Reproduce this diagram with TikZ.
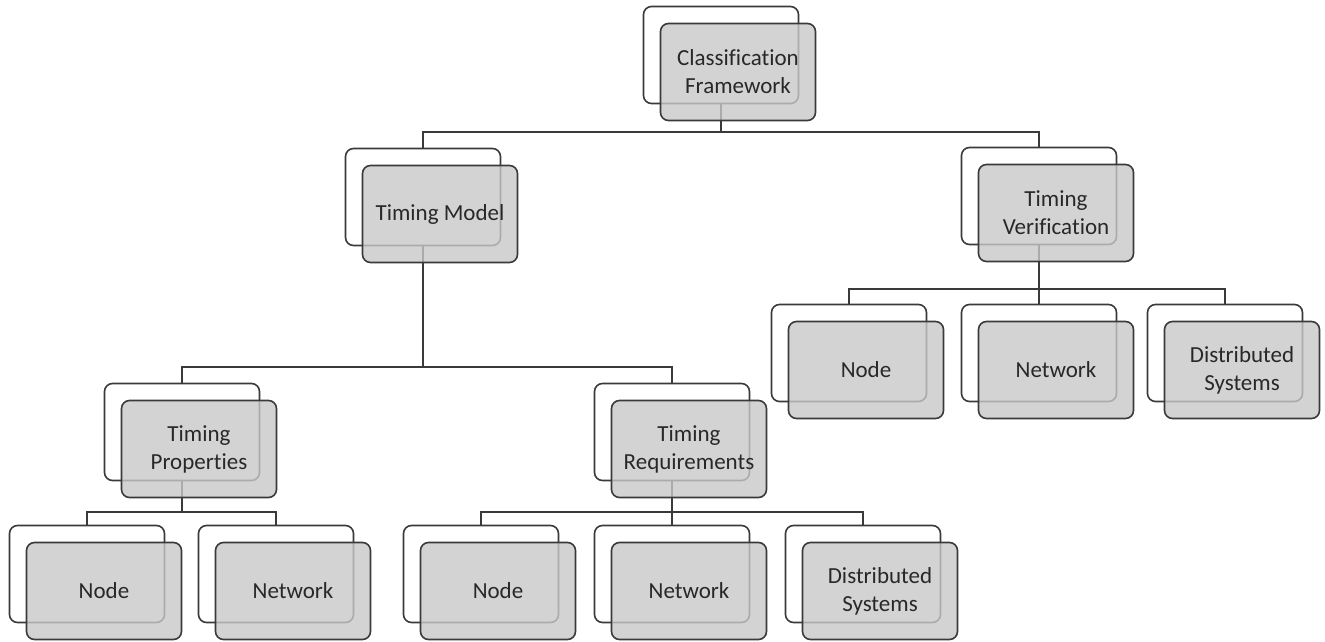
\documentclass[tikz,border=0pt]{standalone}
\usepackage{fontspec}
\setmainfont{Carlito}[Ligatures=NoCommon]
\definecolor{lineC}{RGB}{58,58,58}
\definecolor{frontC}{RGB}{200,200,200}
\definecolor{textC}{RGB}{40,40,40}
\pgfdeclarelayer{bg}
\pgfsetlayers{bg,main}
\tikzset{
  backbox/.style={draw=lineC, line width=1.6pt, fill=white, rounded corners=8pt,
    minimum width=155pt, minimum height=97pt, inner sep=0pt},
  frontbox/.style={draw=lineC, line width=1.6pt, fill=frontC, fill opacity=0.8,
    text opacity=1, rounded corners=8pt, minimum width=155pt, minimum height=97pt,
    inner sep=0pt, align=center, text=textC, font=\fontsize{23}{28}\selectfont},
  conn/.style={draw=lineC, line width=1.6pt}
}
\newcommand\dbox[3]{%
  \node[backbox] (#1) at (#2) {};
  \node[frontbox, xshift=17pt, yshift=-17pt] (#1f) at (#1) {#3};}
\begin{document}
\begin{tikzpicture}[x=1pt,y=-1pt]
\useasboundingbox (0,0) rectangle (1325,642);
\dbox{cf}{721,55}{Classification\\Framework}
\dbox{tm}{423,197}{Timing Model}
\dbox{tv}{1039,196}{Timing\\Verification}
\dbox{tp}{182,432}{Timing\\Properties}
\dbox{tr}{672,432}{Timing\\Requirements}
\dbox{vn}{849,353}{Node}
\dbox{vw}{1039,353}{Network}
\dbox{vd}{1225,353}{Distributed\\Systems}
\dbox{pn}{87,574}{Node}
\dbox{pw}{276,574}{Network}
\dbox{rn}{481,574}{Node}
\dbox{rw}{672,574}{Network}
\dbox{rd}{863,574}{Distributed\\Systems}
\coordinate (b1) at (0,132);
\coordinate (b2) at (0,367);
\coordinate (b3) at (0,289);
\coordinate (b4) at (0,512);
\begin{pgfonlayer}{bg}
  \draw[conn] (cf.south) -- (cf.south |- b1);
  \draw[conn] (tm.north) |- (tv.north |- b1) -- (tv.north);
  \draw[conn] (tm.south) -- (tm.south |- b2);
  \draw[conn] (tp.north) |- (tr.north |- b2) -- (tr.north);
  \draw[conn] (tv.south) -- (vw.north);
  \draw[conn] (vn.north) |- (vd.north |- b3) -- (vd.north);
  \draw[conn] (tp.south) -- (tp.south |- b4);
  \draw[conn] (pn.north) |- (pw.north |- b4) -- (pw.north);
  \draw[conn] (tr.south) -- (rw.north);
  \draw[conn] (rn.north) |- (rd.north |- b4) -- (rd.north);
\end{pgfonlayer}
\end{tikzpicture}
\end{document}
